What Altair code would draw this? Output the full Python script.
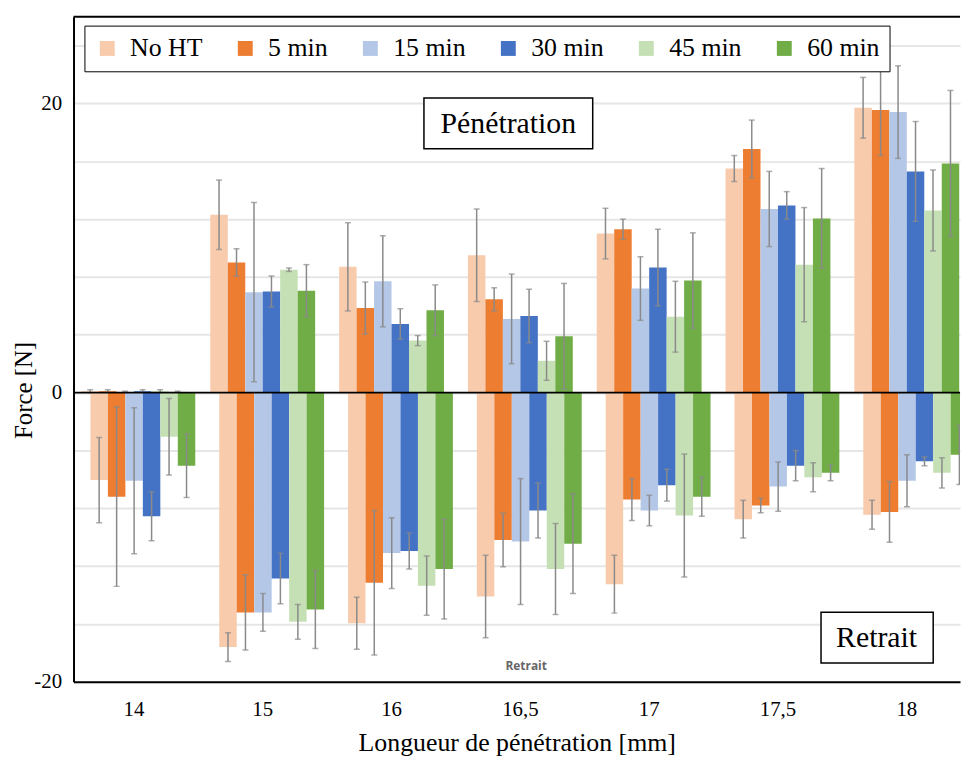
import altair as alt
import pandas as pd

categories = ["14", "15", "16", "16,5", "17", "17,5", "18"]
series = ["No HT", "5 min", "15 min", "30 min", "45 min", "60 min"]
colors = ["#F8CBAD", "#ED7D31", "#B4C7E7", "#4472C4", "#C5E0B4", "#70AD47"]

# Pénétration (positive forces) and their error half-widths
pen_no_ht = [0.1, 12.3, 8.7, 9.5, 11.0, 15.5, 19.7]
pen_no_ht_err = [0.1, 2.4, 3.05, 3.2, 1.75, 0.9, 2.1]
pen_5 = [0.1, 9.0, 5.85, 6.45, 11.3, 16.85, 19.55]
pen_5_err = [0.1, 0.95, 1.8, 0.8, 0.7, 2.0, 3.15]
pen_15 = [0.05, 6.95, 7.7, 5.1, 7.2, 12.7, 19.4]
pen_15_err = [0.05, 6.2, 3.15, 3.1, 2.2, 2.6, 3.2]
pen_30 = [0.1, 7.0, 4.75, 5.3, 8.65, 12.95, 15.3]
pen_30_err = [0.1, 1.07, 1.05, 1.85, 2.65, 0.95, 3.45]
pen_45 = [0.1, 8.5, 3.6, 2.2, 5.25, 8.85, 12.6]
pen_45_err = [0.1, 0.12, 0.35, 1.35, 2.45, 3.95, 2.8]
pen_60 = [0.05, 7.05, 5.7, 3.9, 7.75, 12.05, 15.85]
pen_60_err = [0.05, 1.8, 1.75, 3.65, 3.3, 3.45, 5.05]

# Retrait (negative forces) and their error half-widths
ret_no_ht = [-6.05, -17.6, -15.95, -14.1, -13.25, -8.75, -8.45]
ret_no_ht_err = [2.95, 1.0, 1.8, 2.85, 2.0, 1.3, 1.0]
ret_5 = [-7.2, -15.2, -13.15, -10.2, -7.4, -7.8, -8.25]
ret_5_err = [6.2, 2.6, 5.0, 1.85, 1.45, 0.5, 2.1]
ret_15 = [-6.1, -15.2, -11.1, -10.3, -8.15, -6.5, -6.1]
ret_15_err = [5.05, 1.3, 2.45, 4.35, 1.05, 1.7, 1.8]
ret_30 = [-8.55, -12.85, -10.95, -8.15, -6.4, -5.05, -4.75]
ret_30_err = [1.7, 1.75, 1.25, 1.9, 1.1, 1.05, 0.3]
ret_45 = [-3.05, -15.85, -13.35, -12.2, -8.5, -5.85, -5.55]
ret_45_err = [2.65, 1.2, 2.05, 3.15, 4.25, 1.0, 1.05]
ret_60 = [-5.05, -15.0, -12.2, -10.45, -7.2, -5.55, -4.3]
ret_60_err = [2.2, 2.7, 3.45, 3.45, 1.35, 0.55, 2.05]

y_ticks = list(range(-20, 25, 2))

pen_sets = [(pen_no_ht, pen_no_ht_err), (pen_5, pen_5_err), (pen_15, pen_15_err),
            (pen_30, pen_30_err), (pen_45, pen_45_err), (pen_60, pen_60_err)]
ret_sets = [(ret_no_ht, ret_no_ht_err), (ret_5, ret_5_err), (ret_15, ret_15_err),
            (ret_30, ret_30_err), (ret_45, ret_45_err), (ret_60, ret_60_err)]


def build(sets):
    rows = []
    for s, (vals, errs) in zip(series, sets):
        for c, v, e in zip(categories, vals, errs):
            rows.append({"cat": c, "series": s, "value": v, "lo": v - e, "hi": v + e})
    return pd.DataFrame(rows)


df_pen = build(pen_sets)
df_ret = build(ret_sets)
one = pd.DataFrame({"k": [0]})

W, H = 893, 670
SERIF = "Liberation Serif"
ERR = "#8a8a8a"
SHIFT = 9  # the Retrait bars sit a few pixels right of the Pénétration bars

yscale = alt.Scale(domain=[-20, 26], nice=False)
xoff = alt.XOffset("series:N", sort=series, scale=alt.Scale(paddingInner=0, paddingOuter=0))
legend = alt.Legend(orient="none", legendX=11, legendY=9, direction="horizontal",
                    columns=6, title=None, symbolType="square", symbolSize=225,
                    symbolStrokeWidth=0, labelFont=SERIF, labelFontSize=26,
                    labelColor="black", strokeColor="black", fillColor="white",
                    padding=10, columnPadding=30, labelOffset=10, labelLimit=0)
color = alt.Color("series:N", sort=series, scale=alt.Scale(domain=series, range=colors), legend=legend)

x_axis = alt.Axis(title="Longueur de pénétration [mm]", labelAngle=0, ticks=False,
                  domain=True, domainColor="black", domainWidth=2, grid=False,
                  labelFont=SERIF, labelFontSize=21, labelColor="black", labelPadding=17,
                  titleFont=SERIF, titleFontSize=26, titleFontWeight="normal",
                  titleColor="black", titlePadding=10)
y_axis = alt.Axis(values=y_ticks, labelExpr="datum.value % 10 === 0 ? toString(datum.value) : ''",
                  ticks=False, domain=True, domainColor="black", domainWidth=2,
                  grid=True, gridColor="#e6e6e6", gridWidth=2,
                  labelFont=SERIF, labelFontSize=21, labelColor="black", labelPadding=12,
                  title="Force [N]", titleFont=SERIF, titleFontSize=25, titleFontWeight="normal",
                  titleColor="black", titleX=-37, titleY=376)


def xenc(shift, main):
    sc = alt.Scale(paddingInner=0.186, paddingOuter=0.034, align=0.91,
                   **({"range": [shift, W + shift]} if shift else {}))
    if shift:
        return alt.X("cat:N", sort=categories, scale=sc, axis=None)
    if main:
        return alt.X("cat:N", sort=categories, scale=sc, axis=x_axis)
    return alt.X("cat:N", sort=categories, scale=sc)


def yenc(field, main=False):
    if main:
        return alt.Y(field, scale=yscale, axis=y_axis)
    return alt.Y(field, scale=yscale)


def group(df, shift):
    clip = bool(shift)
    main = not shift
    bars = alt.Chart(df).mark_bar(clip=clip).encode(
        x=xenc(shift, main), xOffset=xoff, y=yenc("value:Q", main), color=color)
    rules = alt.Chart(df).mark_rule(color=ERR, strokeWidth=1.5, clip=clip).encode(
        x=xenc(shift, False), xOffset=xoff, y=yenc("lo:Q"), y2="hi:Q")
    cap_hi = alt.Chart(df).mark_tick(color=ERR, thickness=1.5, size=6, orient="horizontal", clip=clip).encode(
        x=xenc(shift, False), xOffset=xoff, y=yenc("hi:Q"))
    cap_lo = alt.Chart(df).mark_tick(color=ERR, thickness=1.5, size=6, orient="horizontal", clip=clip).encode(
        x=xenc(shift, False), xOffset=xoff, y=yenc("lo:Q"))
    return alt.layer(bars, rules, cap_hi, cap_lo)


zero = alt.Chart(pd.DataFrame({"z": [0]})).mark_rule(color="black", strokeWidth=2).encode(
    y=yenc("z:Q"))
top_border = alt.Chart(one).mark_rule(color="black", strokeWidth=2).encode(
    x=alt.value(0), x2=alt.value(W), y=alt.value(0))

gap = alt.Chart(one).mark_rect(fill="white").encode(
    x=alt.value(398), x2=alt.value(513), y=alt.value(636), y2=alt.value(645))
small_lbl = alt.Chart(one).mark_text(font="Open Sans", fontSize=12, fontWeight="bold",
                                     color="#666666").encode(
    x=alt.value(456), y=alt.value(654), text=alt.value("Retrait"))

pen_box = alt.Chart(one).mark_rect(fill="white", stroke="black", strokeWidth=1.5).encode(
    x=alt.value(353), x2=alt.value(523), y=alt.value(82), y2=alt.value(133))
pen_txt = alt.Chart(one).mark_text(font=SERIF, fontSize=30, color="black").encode(
    x=alt.value(438), y=alt.value(108), text=alt.value("Pénétration"))
ret_box = alt.Chart(one).mark_rect(fill="white", stroke="black", strokeWidth=1.5).encode(
    x=alt.value(753), x2=alt.value(866), y=alt.value(600), y2=alt.value(651))
ret_txt = alt.Chart(one).mark_text(font=SERIF, fontSize=30, color="black").encode(
    x=alt.value(809), y=alt.value(626), text=alt.value("Retrait"))

chart = alt.layer(
    group(df_pen, 0), group(df_ret, SHIFT),
    gap, small_lbl, zero, top_border, pen_box, pen_txt, ret_box, ret_txt
).resolve_scale(x="independent").properties(
    width=W, height=H,
    padding={"left": 4, "top": 5, "right": 0, "bottom": 0},
    background="white",
).configure_view(stroke=None).configure_legend(labelFont=SERIF).configure_text(font=SERIF)

chart.save("out.html", embed_options={"renderer": "svg", "actions": False})
